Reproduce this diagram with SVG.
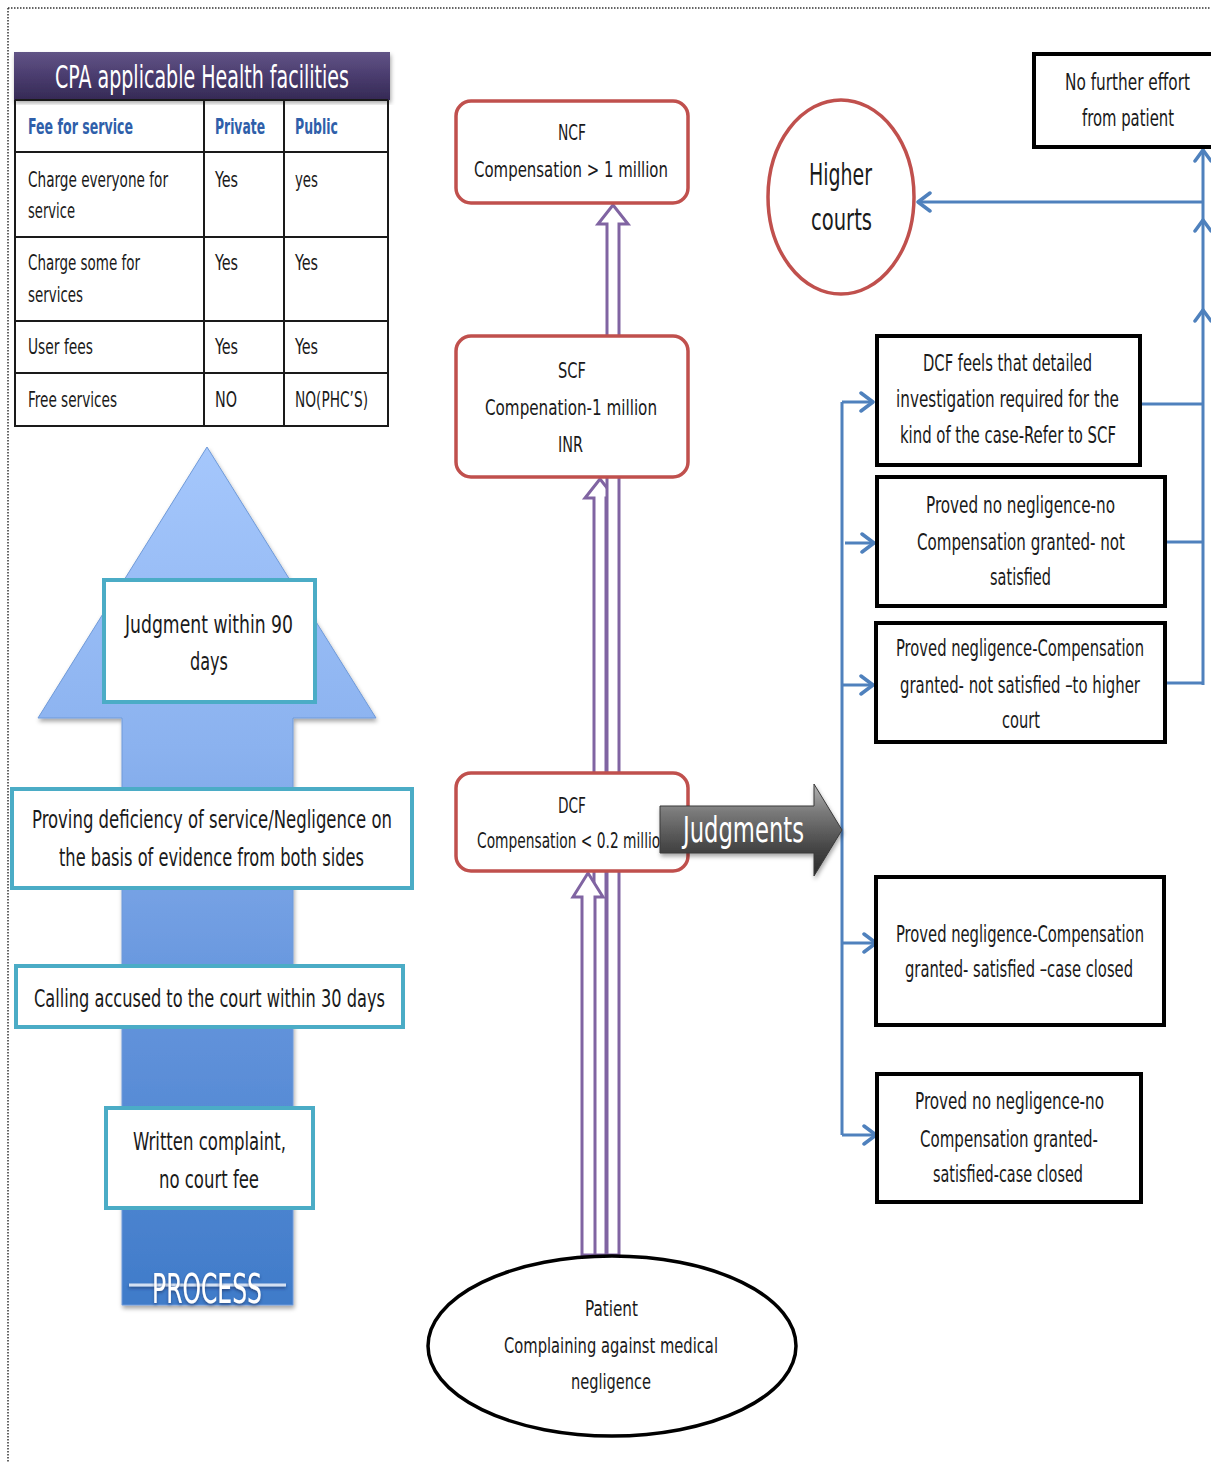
<svg xmlns="http://www.w3.org/2000/svg" width="1211" height="1463" viewBox="0 0 1211 1463">
  <defs>
    <style>
      text { font-family: "Liberation Sans Narrow", "DejaVu Sans Condensed", "Liberation Sans", sans-serif; fill: #1a1a1a; }
      .t21 { font-size: 21px; }
      .t23 { font-size: 23px; }
      .t25 { font-size: 25px; }
      .hdr { font-size: 21px; font-weight: bold; fill: #2f5faa; }
      .grid { stroke: #1a1a1a; stroke-width: 2; fill: none; }
      .teal { fill: #ffffff; stroke: #4bacc6; stroke-width: 4; }
      .court { fill: #ffffff; stroke: #c0504d; stroke-width: 3.5; }
      .plain { fill: #ffffff; stroke: #000000; stroke-width: 4; }
      .flow { fill: #ffffff; stroke: #8064a2; stroke-width: 3; stroke-linejoin: miter; }
      .link { fill: none; stroke: #4f81bd; stroke-width: 3; }
      .head { fill: none; stroke: #4f81bd; stroke-width: 3.5; stroke-linecap: round; stroke-linejoin: round; }
      .white { fill: #ffffff; }
    </style>
    <linearGradient id="bandFill" x1="0" y1="0" x2="0" y2="1">
      <stop offset="0" stop-color="#625486"/>
      <stop offset="0.5" stop-color="#4a3c6e"/>
      <stop offset="1" stop-color="#352a55"/>
    </linearGradient>
    <linearGradient id="processFill" gradientUnits="userSpaceOnUse" x1="0" y1="447" x2="0" y2="1305">
      <stop offset="0" stop-color="#a5c7fc"/>
      <stop offset="0.35" stop-color="#8bb2ef"/>
      <stop offset="0.65" stop-color="#6494dc"/>
      <stop offset="1" stop-color="#3f7bc9"/>
    </linearGradient>
    <linearGradient id="judgeFill" gradientUnits="userSpaceOnUse" x1="0" y1="784" x2="0" y2="876">
      <stop offset="0" stop-color="#b4b4b4"/>
      <stop offset="0.3" stop-color="#7a7a7a"/>
      <stop offset="0.7" stop-color="#454545"/>
      <stop offset="1" stop-color="#2a2a2a"/>
    </linearGradient>
    <filter id="shade" x="-10%" y="-10%" width="120%" height="120%">
      <feDropShadow dx="1" dy="3" stdDeviation="2" flood-color="#000000" flood-opacity="0.35"/>
    </filter>
    <filter id="glow" filterUnits="userSpaceOnUse" x="110" y="1255" width="200" height="65">
      <feDropShadow dx="0" dy="2" stdDeviation="1.5" flood-color="#1d3560" flood-opacity="0.6"/>
    </filter>
  </defs>

  <rect width="1211" height="1463" fill="#ffffff"/>

  <!-- dotted page frame -->
  <path d="M8,8 H1211 M8,8 V1463" fill="none" stroke="#333333" stroke-width="1.5" stroke-dasharray="1.5 1.5"/>

  <!-- facilities table -->
  <g id="table">
    <rect x="14" y="52" width="376" height="48" fill="url(#bandFill)" filter="url(#shade)"/>
    <text x="55" y="88" class="white" style="font-size:32px;fill:#ffffff" textLength="294" lengthAdjust="spacingAndGlyphs">CPA applicable Health facilities</text>
    <path class="grid" d="M15,100 V427 M204,100 V427 M284,100 V427 M388,100 V427 M15,100 H388 M15,152 H388 M15,237 H388 M15,321 H388 M15,373 H388 M15,426 H388"/>
    <text x="28" y="134" class="hdr" textLength="105" lengthAdjust="spacingAndGlyphs">Fee for service</text>
    <text x="215" y="134" class="hdr" textLength="50" lengthAdjust="spacingAndGlyphs">Private</text>
    <text x="295" y="134" class="hdr" textLength="43" lengthAdjust="spacingAndGlyphs">Public</text>
    <text x="28" y="187" class="t21" textLength="140" lengthAdjust="spacingAndGlyphs">Charge everyone for</text>
    <text x="28" y="218" class="t21" textLength="47" lengthAdjust="spacingAndGlyphs">service</text>
    <text x="215" y="187" class="t21" textLength="23" lengthAdjust="spacingAndGlyphs">Yes</text>
    <text x="295" y="187" class="t21" textLength="23" lengthAdjust="spacingAndGlyphs">yes</text>
    <text x="28" y="270" class="t21" textLength="112" lengthAdjust="spacingAndGlyphs">Charge some for</text>
    <text x="28" y="302" class="t21" textLength="55" lengthAdjust="spacingAndGlyphs">services</text>
    <text x="215" y="270" class="t21" textLength="23" lengthAdjust="spacingAndGlyphs">Yes</text>
    <text x="295" y="270" class="t21" textLength="23" lengthAdjust="spacingAndGlyphs">Yes</text>
    <text x="28" y="354" class="t21" textLength="65" lengthAdjust="spacingAndGlyphs">User fees</text>
    <text x="215" y="354" class="t21" textLength="23" lengthAdjust="spacingAndGlyphs">Yes</text>
    <text x="295" y="354" class="t21" textLength="23" lengthAdjust="spacingAndGlyphs">Yes</text>
    <text x="28" y="407" class="t21" textLength="89" lengthAdjust="spacingAndGlyphs">Free services</text>
    <text x="215" y="407" class="t21" textLength="22" lengthAdjust="spacingAndGlyphs">NO</text>
    <text x="295" y="407" class="t21" textLength="73" lengthAdjust="spacingAndGlyphs">NO(PHC’S)</text>
  </g>

  <!-- process arrow with its stages -->
  <g id="process">
    <path d="M207,447 L376,718 L293,718 L293,1305 L122,1305 L122,718 L38,718 Z" fill="url(#processFill)" stroke="#6f9ad9" stroke-width="1" filter="url(#shade)"/>
    <rect x="129" y="1283.5" width="157" height="3" fill="#d4e0f2" filter="url(#glow)"/>
    <text x="152" y="1303" style="font-size:40px;fill:#ffffff" textLength="110" lengthAdjust="spacingAndGlyphs" filter="url(#glow)">PROCESS</text>
  </g>

  <g id="stage-judgment">
    <rect x="104" y="580" width="211" height="122" class="teal"/>
    <text x="125" y="633" class="t25" textLength="168" lengthAdjust="spacingAndGlyphs">Judgment  within 90</text>
    <text x="190" y="670" class="t25" textLength="38" lengthAdjust="spacingAndGlyphs">days</text>
  </g>
  <g id="stage-proving">
    <rect x="12" y="789" width="400" height="99" class="teal"/>
    <text x="32" y="828" class="t25" textLength="360" lengthAdjust="spacingAndGlyphs">Proving deficiency of service/Negligence on</text>
    <text x="59" y="866" class="t25" textLength="305" lengthAdjust="spacingAndGlyphs">the basis of evidence from both sides</text>
  </g>
  <g id="stage-calling">
    <rect x="16" y="966" width="387" height="61" class="teal"/>
    <text x="34" y="1007" class="t25" textLength="351" lengthAdjust="spacingAndGlyphs">Calling accused to the court within 30 days</text>
  </g>
  <g id="stage-written">
    <rect x="106" y="1108" width="207" height="100" class="teal"/>
    <text x="133" y="1150" class="t25" textLength="153" lengthAdjust="spacingAndGlyphs">Written complaint,</text>
    <text x="159" y="1188" class="t25" textLength="100" lengthAdjust="spacingAndGlyphs">no court fee</text>
  </g>

  <!-- connectors -->
  <g id="connectors">
    <!-- hollow arrows from the patient up to each forum -->
    <path class="flow" d="M594,1255 L594,498 L585,498 L600,479 L615,498 L606,498 L606,1255 Z"/>
    <path class="flow" d="M582,1255 L582,897 L573,897 L588,873 L603,897 L595,897 L595,1255 Z"/>
    <path class="flow" d="M607,1255 L607,224 L598,224 L613,205 L628,224 L619,224 L619,1255 Z"/>

    <!-- judgment outcomes -->
    <path class="link" d="M842,402 V1135 M842,402 H872 M845,543 H873 M842,685 H873 M842,943 H876 M842,1135 H876"/>
    <path class="head" d="M861,393 L873,402 L861,411 M862,534 L874,543 L862,552 M861,676 L873,685 L861,694 M864,934 L876,943 L864,952 M864,1126 L876,1135 L864,1144"/>

    <!-- appeals towards higher courts / no further effort -->
    <path class="link" d="M1140,404 H1203 M1165,542 H1203 M1165,683 H1203 M1203,685 V148 M1203,202 H918"/>
    <path class="head" d="M930,193 L918,202 L930,211 M1195,161 L1203,150 L1211,161 M1195,231 L1203,220 L1211,231 M1195,321 L1203,310 L1211,321"/>
  </g>

  <!-- consumer forums -->
  <g id="ncf">
    <rect x="456" y="101" width="232" height="102" rx="15" class="court"/>
    <text x="558" y="140" class="t21" textLength="28" lengthAdjust="spacingAndGlyphs">NCF</text>
    <text x="474" y="177" class="t21" textLength="194" lengthAdjust="spacingAndGlyphs">Compensation  &gt; 1 million</text>
  </g>
  <g id="scf">
    <rect x="456" y="336" width="232" height="141" rx="15" class="court"/>
    <text x="558" y="378" class="t21" textLength="28" lengthAdjust="spacingAndGlyphs">SCF</text>
    <text x="485" y="415" class="t21" textLength="172" lengthAdjust="spacingAndGlyphs">Compenation-1 million</text>
    <text x="558" y="452" class="t21" textLength="25" lengthAdjust="spacingAndGlyphs">INR</text>
  </g>
  <g id="dcf">
    <rect x="456" y="773" width="232" height="98" rx="15" class="court"/>
    <text x="558" y="813" class="t21" textLength="28" lengthAdjust="spacingAndGlyphs">DCF</text>
    <text x="477" y="848" class="t21" textLength="192" lengthAdjust="spacingAndGlyphs">Compensation &lt; 0.2 million</text>
  </g>

  <g id="judgments">
    <path d="M660,806 L814,806 L814,784 L842,830 L814,876 L814,853 L660,853 Z" fill="url(#judgeFill)" stroke="#3a3a3a" stroke-width="1" filter="url(#shade)"/>
    <text x="683" y="842" style="font-size:35px;fill:#ffffff" textLength="121" lengthAdjust="spacingAndGlyphs">Judgments</text>
  </g>

  <g id="higher-courts">
    <ellipse cx="841" cy="197" rx="73" ry="97" class="court"/>
    <text x="809" y="185" style="font-size:30px" textLength="63" lengthAdjust="spacingAndGlyphs">Higher</text>
    <text x="811" y="230" style="font-size:30px" textLength="61" lengthAdjust="spacingAndGlyphs">courts</text>
  </g>

  <g id="no-further-effort">
    <rect x="1034" y="54" width="190" height="93" class="plain"/>
    <text x="1065" y="90" class="t23" textLength="125" lengthAdjust="spacingAndGlyphs">No further  effort</text>
    <text x="1082" y="126" class="t23" textLength="92" lengthAdjust="spacingAndGlyphs">from patient</text>
  </g>

  <g id="refer-scf">
    <rect x="877" y="336" width="263" height="129" class="plain"/>
    <text x="923" y="371" class="t23" textLength="169" lengthAdjust="spacingAndGlyphs">DCF feels that detailed</text>
    <text x="896" y="407" class="t23" textLength="223" lengthAdjust="spacingAndGlyphs">investigation  required for the</text>
    <text x="900" y="443" class="t23" textLength="216" lengthAdjust="spacingAndGlyphs">kind of the case-Refer to SCF</text>
  </g>

  <g id="no-negligence-unsatisfied">
    <rect x="877" y="477" width="288" height="129" class="plain"/>
    <text x="926" y="513" class="t23" textLength="189" lengthAdjust="spacingAndGlyphs">Proved  no negligence-no</text>
    <text x="917" y="550" class="t23" textLength="208" lengthAdjust="spacingAndGlyphs">Compensation  granted- not</text>
    <text x="990" y="585" class="t23" textLength="61" lengthAdjust="spacingAndGlyphs">satisfied</text>
  </g>

  <g id="negligence-unsatisfied">
    <rect x="876" y="623" width="289" height="119" class="plain"/>
    <text x="896" y="656" class="t23" textLength="248" lengthAdjust="spacingAndGlyphs">Proved negligence-Compensation</text>
    <text x="900" y="693" class="t23" textLength="240" lengthAdjust="spacingAndGlyphs">granted- not satisfied –to higher</text>
    <text x="1002" y="728" class="t23" textLength="38" lengthAdjust="spacingAndGlyphs">court</text>
  </g>

  <g id="negligence-closed">
    <rect x="876" y="877" width="288" height="148" class="plain"/>
    <text x="896" y="942" class="t23" textLength="248" lengthAdjust="spacingAndGlyphs">Proved negligence-Compensation</text>
    <text x="905" y="977" class="t23" textLength="228" lengthAdjust="spacingAndGlyphs">granted- satisfied –case closed</text>
  </g>

  <g id="no-negligence-closed">
    <rect x="877" y="1074" width="264" height="128" class="plain"/>
    <text x="915" y="1109" class="t23" textLength="189" lengthAdjust="spacingAndGlyphs">Proved  no negligence-no</text>
    <text x="920" y="1147" class="t23" textLength="178" lengthAdjust="spacingAndGlyphs">Compensation  granted-</text>
    <text x="933" y="1182" class="t23" textLength="150" lengthAdjust="spacingAndGlyphs">satisfied-case closed</text>
  </g>

  <g id="patient">
    <ellipse cx="612" cy="1346" rx="184" ry="90" fill="#ffffff" stroke="#000000" stroke-width="3.5"/>
    <text x="585" y="1316" class="t21" textLength="53" lengthAdjust="spacingAndGlyphs">Patient</text>
    <text x="504" y="1353" class="t21" textLength="214" lengthAdjust="spacingAndGlyphs">Complaining against medical</text>
    <text x="571" y="1389" class="t21" textLength="80" lengthAdjust="spacingAndGlyphs">negligence</text>
  </g>
</svg>
